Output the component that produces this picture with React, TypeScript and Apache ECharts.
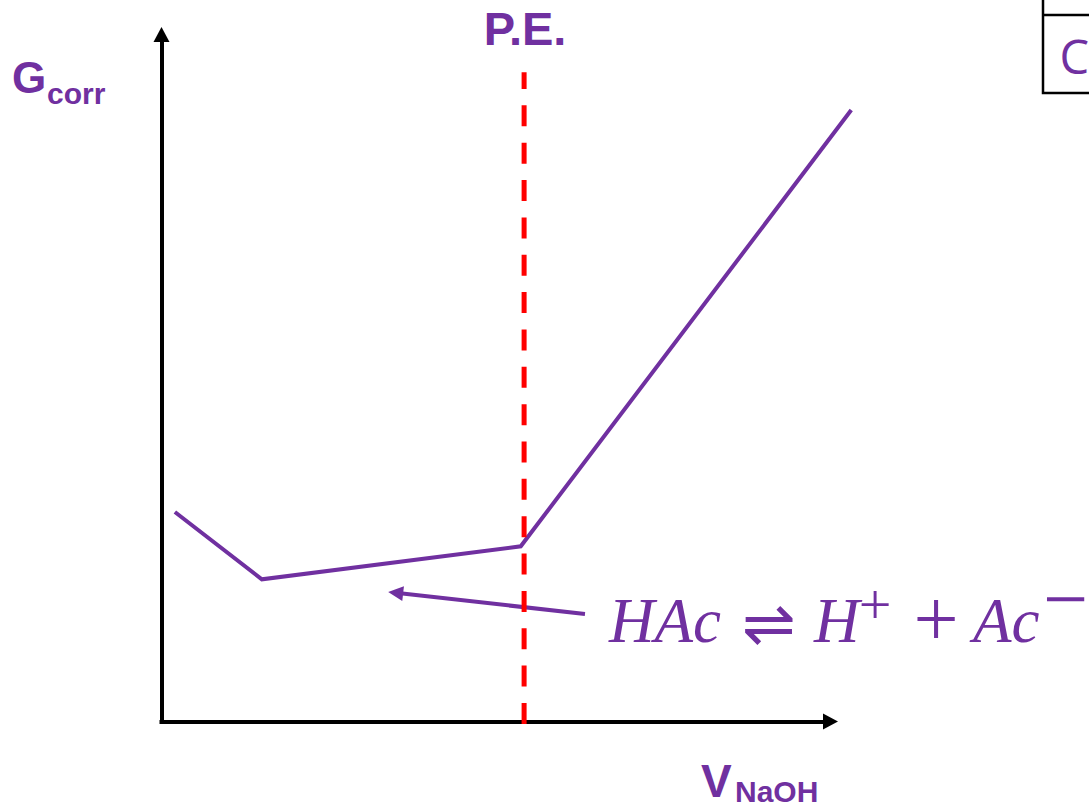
import React, { useEffect, useRef } from "react";
import * as echarts from "echarts";

const PURPLE = "#7030A0";
const RED = "#FF0000";

// Corrected conductance vs. volume of NaOH added (arbitrary units)
const volumes = [0.2, 1.5, 5.37, 10.31];
const conductance = [3.05, 2.07, 2.55, 8.9];

// Equivalence point (P.E.) vertical marker
const equivalenceVolume = 5.42;
const equivalenceSpan = [-0.036, 9.45];

// Arrow pointing from the equilibrium label to the buffer segment
const arrowTail = [6.33, 1.565];
const arrowHead = [3.5, 1.873];

// Visible axes run 0..10; the plotting grid shares the same scale but is wider
// so the steep branch can run past the end of the x axis arrow.
const axisMax = 10;
const plotXMax = 12;

const GRID_LEFT = 161.5;
const GRID_TOP = 34.5;
const GRID_BOTTOM = 86.5;
const AXIS_WIDTH = 669;

type TextOpts = {
  align?: "left" | "center" | "right";
  weight?: string;
  style?: string;
  family?: string;
  fill?: string;
};

// Text placed by its alphabetic baseline
function label(text: string, x: number, baseline: number, size: number, o: TextOpts = {}) {
  const family = o.family ?? "'Liberation Sans', Arial, sans-serif";
  return {
    type: "text",
    x,
    y: baseline - 0.345 * size,
    silent: true,
    style: {
      text,
      font: `${o.style ?? "normal"} ${o.weight ?? "normal"} ${size}px ${family}`,
      fill: o.fill ?? PURPLE,
      align: o.align ?? "left",
      verticalAlign: "middle",
    },
  };
}

const serif = "'Liberation Serif', 'Times New Roman', serif";

export default function App() {
  const ref = useRef<HTMLDivElement>(null);

  useEffect(() => {
    if (!ref.current) return;
    const chart = echarts.init(ref.current, null, { renderer: "svg" });

    const visibleAxis = {
      type: "value" as const,
      min: 0,
      max: axisMax,
      axisLine: {
        show: true,
        onZero: false,
        symbol: ["none", "triangle"],
        symbolSize: [16, 15],
        lineStyle: { color: "#000", width: 4, cap: "square" },
      },
      axisTick: { show: false },
      axisLabel: { show: false },
      splitLine: { show: false },
    };

    chart.setOption({
      animation: false,
      backgroundColor: "#fff",
      grid: [
        { left: GRID_LEFT, width: AXIS_WIDTH, top: GRID_TOP, bottom: GRID_BOTTOM, containLabel: false },
        {
          left: GRID_LEFT,
          width: (AXIS_WIDTH * plotXMax) / axisMax,
          top: GRID_TOP,
          bottom: GRID_BOTTOM,
          containLabel: false,
        },
      ],
      xAxis: [
        { ...visibleAxis, gridIndex: 0 },
        { type: "value", gridIndex: 1, min: 0, max: plotXMax, show: false },
      ],
      yAxis: [
        { ...visibleAxis, gridIndex: 0 },
        { type: "value", gridIndex: 1, min: 0, max: axisMax, show: false },
      ],
      series: [
        {
          name: "Gcorr",
          type: "line",
          xAxisIndex: 1,
          yAxisIndex: 1,
          data: volumes.map((v, i) => [v, conductance[i]]),
          symbol: "none",
          clip: false,
          lineStyle: { color: PURPLE, width: 4, cap: "butt", join: "miter" },
          z: 3,
          markLine: {
            silent: true,
            symbol: ["none", "triangle"],
            symbolSize: [15, 15],
            label: { show: false },
            lineStyle: { color: PURPLE, width: 4, type: "solid" },
            data: [[{ coord: arrowTail }, { coord: arrowHead }]],
          },
        },
        {
          name: "P.E.",
          type: "line",
          xAxisIndex: 1,
          yAxisIndex: 1,
          data: [
            [equivalenceVolume, equivalenceSpan[0]],
            [equivalenceVolume, equivalenceSpan[1]],
          ],
          symbol: "none",
          clip: false,
          lineStyle: { color: RED, width: 5, type: [21, 16.35], cap: "butt" },
          z: 5,
        },
      ],
      graphic: [
        label("P.E.", 525, 45, 47, { align: "center", weight: "bold" }),
        label("G", 12, 93, 44, { weight: "bold" }),
        label("corr", 47, 104, 30, { weight: "bold" }),
        label("V", 701, 797, 46, { weight: "bold" }),
        label("NaOH", 735, 802, 30, { weight: "bold" }),
        // Equilibrium of acetic acid
        label("HAc", 609, 643, 63, { style: "italic", family: serif }),
        label("⇌", 769, 645, 64, {
          align: "center",
          weight: "200",
          family: "'DejaVu Sans ExtraLight', 'DejaVu Sans', sans-serif",
        }),
        label("H", 814, 643, 63, { style: "italic", family: serif }),
        label("+", 875, 625, 58, { align: "center", family: serif }),
        label("+", 936, 647, 80, { align: "center", family: serif }),
        label("Ac", 973, 643, 63, { style: "italic", family: serif }),
        label("−", 1043, 627, 80, { family: serif }),
        // Table cell at the upper right edge
        {
          type: "polyline",
          silent: true,
          shape: { points: [[1043, 0], [1043, 93], [1092, 93]] },
          style: { stroke: "#000", lineWidth: 2.5, fill: "none" },
        },
        {
          type: "line",
          silent: true,
          shape: { x1: 1043, y1: 15, x2: 1092, y2: 15 },
          style: { stroke: "#000", lineWidth: 2.5 },
        },
        label("C", 1089, 72, 47, { align: "right", family: "'Open Sans', sans-serif" }),
      ],
    });

    return () => chart.dispose();
  }, []);

  return (
    <div
      ref={ref}
      style={{ position: "fixed", left: 0, top: 0, width: 1089, height: 808, background: "#fff" }}
    />
  );
}
